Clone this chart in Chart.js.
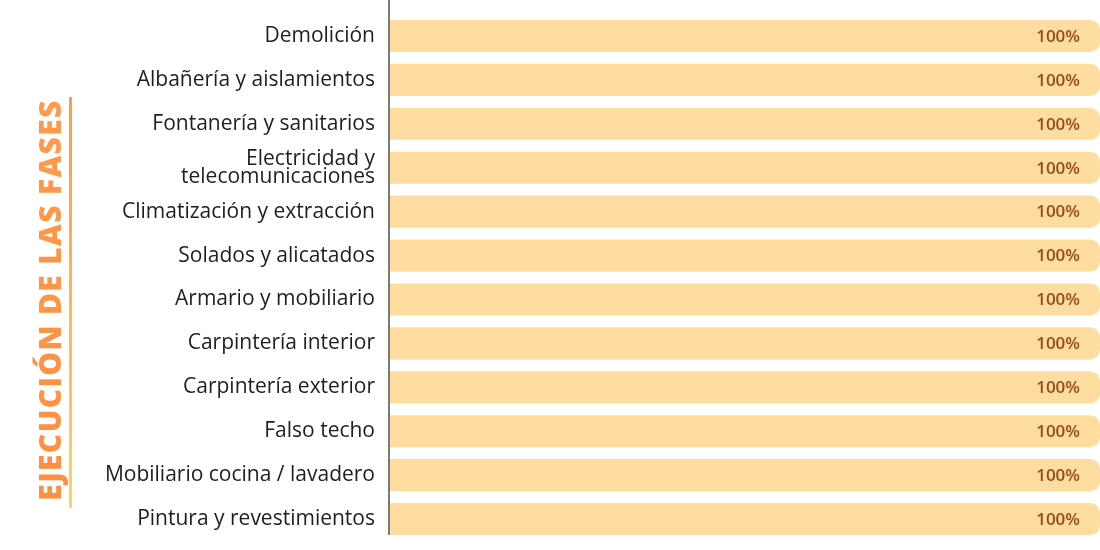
<!DOCTYPE html>
<html>
<head>
<meta charset="utf-8">
<script src="https://cdn.jsdelivr.net/npm/chart.js@4"></script>
<style>
  html, body { margin: 0; padding: 0; background: #fff; }
  #wrap { width: 1100px; height: 550px; position: relative; }
</style>
</head>
<body>
<div id="wrap"><canvas id="fasesChart"></canvas></div>
<script>
const fases = [
    'Demolición',
    'Albañería y aislamientos',
    'Fontanería y sanitarios',
    ['Electricidad y', 'telecomunicaciones'],
    'Climatización y extracción',
    'Solados y alicatados',
    'Armario y mobiliario',
    'Carpintería interior',
    'Carpintería exterior',
    'Falso techo',
    'Mobiliario cocina / lavadero',
    'Pintura y revestimientos'
];
const avance = [100, 100, 100, 100, 100, 100, 100, 100, 100, 100, 100, 100];
const tituloEje = 'EJECUCIÓN DE LAS FASES';

// etiquetas "100%" al final de cada barra + eje vertical + título lateral
const extrasPlugin = {
    id: 'extras',
    afterDatasetsDraw(chart) {
        const ctx = chart.ctx;
        const area = chart.chartArea;
        const meta = chart.getDatasetMeta(0);
        ctx.save();
        ctx.font = '600 17px "Open Sans"';
        ctx.fillStyle = '#9a4a1c';
        ctx.textAlign = 'right';
        ctx.textBaseline = 'middle';
        meta.data.forEach((bar, i) => {
            ctx.fillText(avance[i] + '%', bar.x - 20, bar.y + 1);
        });

        // línea del eje
        ctx.strokeStyle = '#7a7a7a';
        ctx.lineWidth = 2;
        ctx.beginPath();
        ctx.moveTo(area.left, 0);
        ctx.lineTo(area.left, 535);
        ctx.stroke();

        // título vertical, estirado hasta ~400px
        ctx.translate(50, 300);
        ctx.rotate(-Math.PI / 2);
        ctx.font = '800 30px "Open Sans"';
        const w = ctx.measureText(tituloEje).width;
        ctx.letterSpacing = Math.max(0, (400 - w) / (tituloEje.length - 1)) + 'px';
        ctx.textAlign = 'center';
        ctx.textBaseline = 'middle';
        const tg = ctx.createLinearGradient(200, 0, -200, 0);
        tg.addColorStop(0, '#ff9a4c');
        tg.addColorStop(1, '#ff8f40');
        ctx.fillStyle = tg;
        ctx.fillText(tituloEje, 0, 2);
        ctx.restore();

        // barra de color junto al título
        ctx.save();
        const lg = ctx.createLinearGradient(0, 97, 0, 508);
        lg.addColorStop(0, '#ff9a4c');
        lg.addColorStop(1, '#ffd45a');
        ctx.fillStyle = lg;
        ctx.fillRect(69, 97, 3, 411);
        ctx.restore();
    }
};

const ctx = document.getElementById('fasesChart').getContext('2d');
new Chart(ctx, {
    type: 'bar',
    data: {
        labels: fases,
        datasets: [{
            data: avance,
            backgroundColor: '#ffdda1',
            borderRadius: { topRight: 10, bottomRight: 10 },
            borderSkipped: 'start',
            barPercentage: 0.73,
            categoryPercentage: 1
        }]
    },
    options: {
        indexAxis: 'y',
        responsive: true,
        maintainAspectRatio: false,
        animation: false,
        layout: { padding: { top: 14, bottom: 9, left: 0, right: 0 } },
        scales: {
            x: { display: false, min: 0, max: 100 },
            y: {
                grid: { display: false, drawTicks: false },
                border: { display: false },
                afterFit: (axis) => {
                    axis.width = 389;
                    axis.paddingTop = 0;
                    axis.paddingBottom = 0;
                },
                ticks: {
                    padding: 14,
                    color: '#1e1e1e',
                    font: { family: '"Open Sans"', size: 21, lineHeight: 0.86 }
                }
            }
        },
        plugins: {
            legend: { display: false },
            tooltip: { enabled: false }
        }
    },
    plugins: [extrasPlugin]
});
</script>
</body>
</html>
